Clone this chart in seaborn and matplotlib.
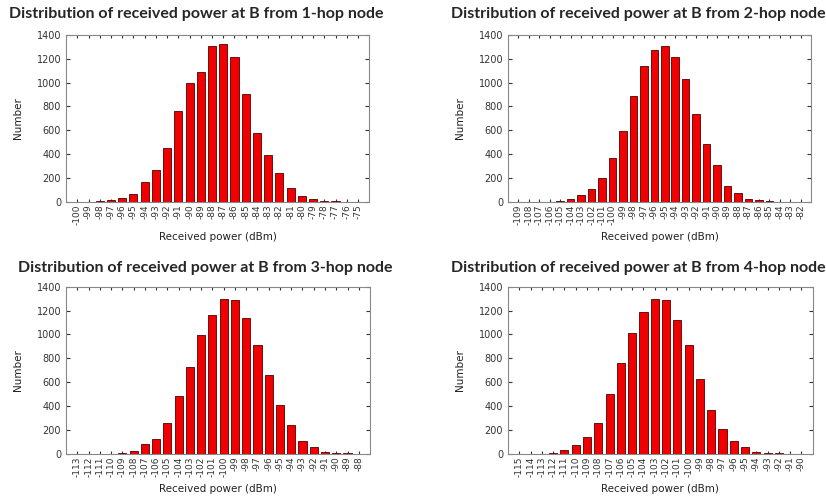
import pandas as pd
import matplotlib.pyplot as plt
import seaborn as sns

# Datos (cuentas por potencia recibida, dBm)
power_1hop = list(range(-100, -74))
count_1hop = [0, 0, 5, 15, 35, 65, 165, 268, 450, 760, 995, 1085, 1310, 1320,
              1215, 900, 575, 390, 240, 115, 50, 22, 8, 5, 0, 0]

power_2hop = list(range(-109, -81))
count_2hop = [0, 0, 0, 0, 8, 20, 55, 105, 200, 365, 590, 885, 1140, 1275,
              1305, 1210, 1030, 735, 485, 305, 135, 75, 25, 15, 5, 0, 0, 0]

power_3hop = list(range(-113, -87))
count_3hop = [0, 0, 0, 0, 5, 25, 85, 125, 255, 485, 725, 995, 1165, 1300,
              1285, 1140, 915, 660, 410, 245, 110, 55, 18, 8, 5, 0]

power_4hop = list(range(-115, -89))
count_4hop = [0, 0, 0, 10, 28, 75, 140, 260, 500, 760, 1010, 1185, 1300, 1285,
              1125, 915, 625, 365, 210, 105, 55, 12, 8, 5, 0, 0]

titles = ["Distribution of received power at B from 1-hop node",
          "Distribution of received power at B from 2-hop node",
          "Distribution of received power at B from 3-hop node",
          "Distribution of received power at B from 4-hop node"]

series = [(power_1hop, count_1hop), (power_2hop, count_2hop),
          (power_3hop, count_3hop), (power_4hop, count_4hop)]

sns.set_style("white")

fig = plt.figure(figsize=(8.26, 4.97), dpi=100)

# posiciones de los ejes [left, bottom, width, height]
boxes = [[0.080, 0.594, 0.367, 0.336],
         [0.615, 0.594, 0.367, 0.336],
         [0.080, 0.087, 0.368, 0.336],
         [0.615, 0.087, 0.369, 0.336]]
title_pos = [(0.238, 0.972), (0.773, 0.972), (0.249, 0.460), (0.773, 0.460)]

for (pw, cnt), box, title, tp in zip(series, boxes, titles, title_pos):
    ax = fig.add_axes(box)
    df = pd.DataFrame({"power": [str(p) for p in pw], "count": cnt})
    sns.barplot(data=df, x="power", y="count", color="#f00000",
                edgecolor="#500000", linewidth=0.6, width=0.72,
                saturation=1, ax=ax)
    ax.set_ylim(0, 1400)
    ax.set_yticks(range(0, 1401, 200))
    ax.set_xlim(-1, len(pw))
    ax.tick_params(axis="x", labelrotation=90, labelsize=6.5, colors="#333333",
                   direction="in", length=2, top=True, bottom=True, pad=2)
    ax.tick_params(axis="y", labelsize=7, colors="#333333",
                   direction="in", length=3, left=True, right=True)
    for s in ax.spines.values():
        s.set_color("#888888")
        s.set_linewidth(0.8)
    ax.set_xlabel("Received power (dBm)", fontsize=7.5, color="#222222",
                  labelpad=5)
    ax.set_ylabel("Number", fontsize=7.5, color="#222222", labelpad=10)
    fig.text(tp[0], tp[1], title, ha="center", va="center",
             fontsize=11.5, fontweight="bold", family=["Lato", "DejaVu Sans"])

plt.savefig("out.png", dpi=100)
